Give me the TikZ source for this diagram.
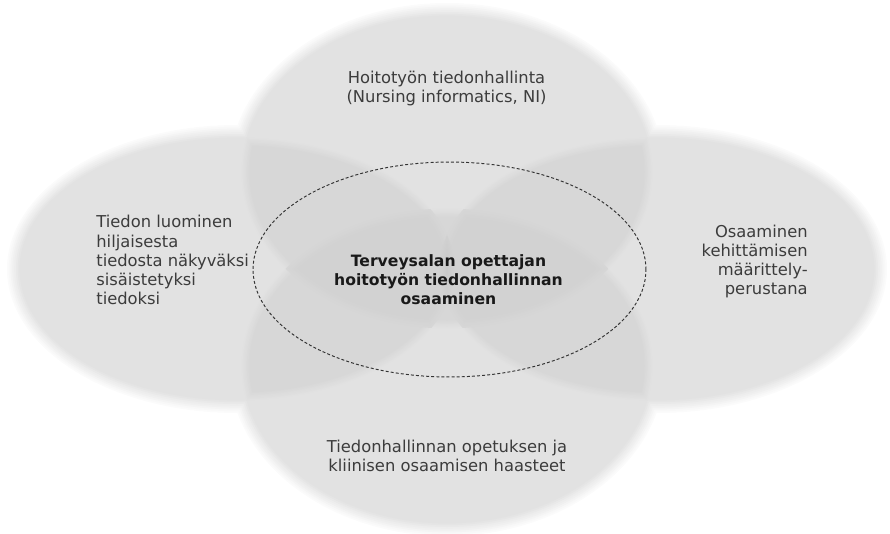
\documentclass[tikz,border=0pt]{standalone}
\usepackage{fontspec}
\setmainfont{DejaVu Sans}
\usetikzlibrary{shapes.geometric}
\definecolor{labelgray}{HTML}{3C3C3C}
\definecolor{dashgray}{HTML}{333333}

% oval data, index 0..3 = top, left, right, bottom
\def\ocx{{447,237,657,447}}
\def\ocy{{172,269,269,366}}
\def\orx{{218,230,230,218}}
\def\ory{{169,144,144,170}}

\newcommand\ovalgeom[2]{%
  \pgfmathsetmacro\ovX{\ocx[#1]}%
  \pgfmathsetmacro\ovY{\ocy[#1]}%
  \pgfmathsetmacro\ovA{\orx[#1]-#2}%
  \pgfmathsetmacro\ovB{\ory[#1]-#2}}
\newcommand\clipoval[2]{\ovalgeom{#1}{#2}%
  \clip (\ovX,\ovY) ellipse [x radius=\ovA, y radius=\ovB];}
\newcommand\filloval[3]{\ovalgeom{#1}{#2}%
  \fill[#3] (\ovX,\ovY) ellipse [x radius=\ovA, y radius=\ovB];}

\begin{document}
\begin{tikzpicture}[x=0.02cm, y=-0.02cm,
  label text/.style={font=\fontsize{9.3pt}{10.9pt}\selectfont, text=labelgray, inner sep=0pt},
  core text/.style={font=\fontsize{8.9pt}{10.9pt}\selectfont\bfseries, text=black!90, inner sep=0pt},
  core ring/.style={ellipse, draw=dashgray, line width=0.55pt,
    dash pattern=on 1.7pt off 1.2pt, minimum width=7.86cm, minimum height=4.3cm, inner sep=0pt}]

\useasboundingbox (0,0) rectangle (890,534);
\clip (0,0) rectangle (890,534);

% Soft-edged ovals. Each area gets the tone of the number of ovals
% covering it; rings are drawn inward and ever darker, so the
% darkest ring at a point wins.
% one oval
\foreach \t in {0,...,7}{
  \pgfmathsetmacro\tone{11.4*(\t+1)/8}
  \pgfmathsetmacro\shr{1.8*\t}
  \foreach \i in {0,...,3}{\filloval{\i}{\shr}{black!\tone}}
}
% two ovals
\foreach \t in {0,...,7}{
  \pgfmathsetmacro\tone{11.4+4.3*(\t+1)/8}
  \pgfmathsetmacro\shr{12.6+1.2*\t}
  \foreach \i/\j in {0/1,0/2,0/3,1/2,1/3,2/3}{
    \begin{scope}\clipoval{\i}{\shr}\filloval{\j}{\shr}{black!\tone}\end{scope}}
}
% three ovals
\foreach \t in {0,...,7}{
  \pgfmathsetmacro\tone{15.7+1.9*(\t+1)/8}
  \pgfmathsetmacro\shr{12.6+1.2*\t}
  \foreach \i/\j/\k in {0/1/2,0/1/3,0/2/3,1/2/3}{
    \begin{scope}\clipoval{\i}{\shr}\clipoval{\j}{\shr}\filloval{\k}{\shr}{black!\tone}\end{scope}}
}
% all four
\foreach \t in {0,...,7}{
  \pgfmathsetmacro\tone{17.6+3.6*(\t+1)/8}
  \pgfmathsetmacro\shr{12.6+1.2*\t}
  \begin{scope}\clipoval{0}{\shr}\clipoval{1}{\shr}\clipoval{2}{\shr}\filloval{3}{\shr}{black!\tone}\end{scope}
}

\node[core ring] (core) at (449.5,269.5) {};
\node[core text, align=center] (coretext) at (448.5,280)
  {Terveysalan opettajan\\hoitotyön tiedonhallinnan\\osaaminen};

\node[label text, align=center] (nursing) at (446.5,88.4)
  {Hoitotyön tiedonhallinta\\(Nursing informatics, NI)};
\node[label text, align=left, anchor=west] (tacit) at (96,260.2)
  {Tiedon luominen\\hiljaisesta\\tiedosta näkyväksi\\sisäistetyksi\\tiedoksi};
\node[label text, align=right, anchor=east] (basis) at (808,261.5)
  {Osaaminen\\kehittämisen\\määrittely-\\perustana};
\node[label text, align=center] (challenge) at (447,456)
  {Tiedonhallinnan opetuksen ja\\kliinisen osaamisen haasteet};
\end{tikzpicture}
\end{document}
